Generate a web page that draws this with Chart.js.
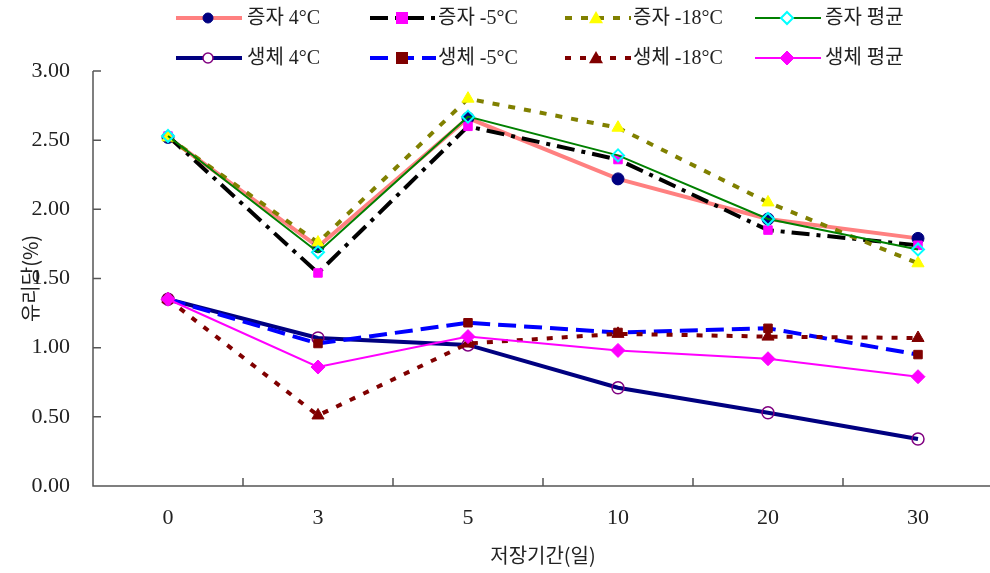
<!DOCTYPE html>
<html><head><meta charset="utf-8">
<script src="https://cdn.jsdelivr.net/npm/chart.js@4/dist/chart.umd.min.js"></script>
<style>
html,body{margin:0;padding:0;background:#fff;overflow:hidden;width:990px;height:573px}
#wrap{position:relative;width:993px;height:573px}
canvas{position:absolute;left:0;top:0}
.lg{position:absolute;font-family:"Liberation Serif","Noto Sans CJK KR",serif;font-size:20px;color:#222;line-height:24px;white-space:nowrap}
.lg svg{position:absolute}
</style></head><body>
<div id="wrap"><canvas id="c" width="993" height="573"></canvas><div id="legend"></div></div>
<script>
const categories = ["0","3","5","10","20","30"];
const seriesNames = ["증자 4°C","증자 -5°C","증자 -18°C","증자 평균","생체 4°C","생체 -5°C","생체 -18°C","생체 평균"];
const jungja4  = [2.52, 1.73, 2.66, 2.22, 1.93, 1.79];
const jungja5  = [2.53, 1.54, 2.60, 2.36, 1.85, 1.74];
const jungja18 = [2.52, 1.76, 2.80, 2.59, 2.05, 1.61];
const jungjaAvg= [2.53, 1.69, 2.67, 2.39, 1.93, 1.71];
const saeng4   = [1.35, 1.07, 1.02, 0.71, 0.53, 0.34];
const saeng5   = [1.35, 1.03, 1.18, 1.11, 1.14, 0.95];
const saeng18  = [1.35, 0.51, 1.03, 1.10, 1.08, 1.07];
const saengAvg = [1.35, 0.86, 1.08, 0.98, 0.92, 0.79];
const yTicks = [0, 0.5, 1.0, 1.5, 2.0, 2.5, 3.0];

const styles = [
 {border:'#FF8080', w:4, dash:[], pt:'circle', r:6, bg:'#000080', pb:'#000080', pbw:1},
 {border:'#000000', w:4, dash:[18,7,4,7], pt:'rect', r:6, bg:'#FF00FF', pb:'#FF00FF', pbw:1},
 {border:'#808000', w:4, dash:[7,9], pt:'triangle', r:7, bg:'#FFFF00', pb:'#FFFF00', pbw:1},
 {border:'#008000', w:2, dash:[], pt:'rectRot', r:6, bg:'rgba(0,0,0,0)', pb:'#00FFFF', pbw:2},
 {border:'#000080', w:4, dash:[], pt:'circle', r:6, bg:'rgba(0,0,0,0)', pb:'#800080', pbw:1.5},
 {border:'#0000FF', w:4, dash:[18,8], pt:'rect', r:6, bg:'#800000', pb:'#800000', pbw:1},
 {border:'#800000', w:4, dash:[6,9], pt:'triangle', r:7, bg:'#800000', pb:'#800000', pbw:1},
 {border:'#FF00FF', w:2, dash:[], pt:'rectRot', r:7, bg:'#FF00FF', pb:'#FF00FF', pbw:1}
];
const allData = [jungja4, jungja5, jungja18, jungjaAvg, saeng4, saeng5, saeng18, saengAvg];

const datasets = allData.map((d,i)=>({
  label: seriesNames[i], data: d, order: allData.length - i,
  borderColor: styles[i].border, borderWidth: styles[i].w, borderDash: styles[i].dash,
  pointStyle: styles[i].pt, pointRadius: styles[i].r, pointBackgroundColor: styles[i].bg,
  pointBorderColor: styles[i].pb, pointBorderWidth: styles[i].pbw, tension: 0, fill:false, clip:false
}));

const axisPlugin = {
  id:'axisPlugin',
  afterDraw(chart){
    const {ctx, chartArea:a, scales:{x,y}} = chart;
    ctx.save();
    ctx.strokeStyle = '#555'; ctx.lineWidth = 1.5;
    ctx.beginPath();
    ctx.moveTo(a.left, a.top); ctx.lineTo(a.left, a.bottom); ctx.lineTo(a.right, a.bottom);
    yTicks.forEach(v=>{ const py = y.getPixelForValue(v); ctx.moveTo(a.left, py); ctx.lineTo(a.left+8, py); });
    for(let i=0;i<categories.length-1;i++){
      const px = (x.getPixelForTick(i)+x.getPixelForTick(i+1))/2;
      ctx.moveTo(px, a.bottom); ctx.lineTo(px, a.bottom-8);
    }
    ctx.stroke();
    ctx.restore();
  }
};

new Chart(document.getElementById('c'), {
  type:'line',
  data:{labels:categories, datasets},
  options:{
    responsive:false, animation:false, devicePixelRatio:1,
    layout:{autoPadding:false, padding:{top:71,left:0,right:0,bottom:0}},
    plugins:{legend:{display:false}, tooltip:{enabled:false}},
    scales:{
      x:{offset:true, grid:{display:false, drawTicks:false}, border:{display:false},
        ticks:{color:'#222', font:{family:'Liberation Serif', size:22}, padding:19, maxRotation:0},
        title:{display:true, text:'저장기간(일)', color:'#222', font:{family:'Noto Sans CJK KR', size:20}, padding:{top:0,bottom:6}},
        afterFit(s){ s.height = 87; }
      },
      y:{min:0, max:3, grid:{display:false, drawTicks:false}, border:{display:false},
        afterBuildTicks(s){ s.ticks = yTicks.map(v=>({value:v})); },
        ticks:{color:'#222', font:{family:'Liberation Serif', size:22}, padding:23,
          callback:v=>Number(v).toFixed(2)},
        title:{display:true, text:'유리당(%)', color:'#222', font:{family:'Noto Sans CJK KR', size:20}, padding:{top:18,bottom:0}},
        afterFit(s){ s.width = 93; }
      }
    }
  },
  plugins:[axisPlugin]
});

// legend
const legendPos = [
  {lx:176, ly:18, mx:208, tx:247},
  {lx:370, ly:18, mx:402, tx:438},
  {lx:565, ly:18, mx:596, tx:633},
  {lx:755, ly:18, mx:787, tx:825},
  {lx:176, ly:58, mx:208, tx:247},
  {lx:370, ly:58, mx:402, tx:438},
  {lx:565, ly:58, mx:596, tx:633},
  {lx:755, ly:58, mx:787, tx:825}
];
const lg = document.getElementById('legend');
function markerSvg(s, cx, cy){
  const f = s.bg, st = s.pb, sw = s.pbw, r = s.r;
  if(s.pt==='circle') return `<circle cx="${cx}" cy="${cy}" r="${r-1}" fill="${f==='rgba(0,0,0,0)'?'#fff':f}" stroke="${st}" stroke-width="${sw}"/>`;
  if(s.pt==='rect') return `<rect x="${cx-r}" y="${cy-r}" width="${2*r}" height="${2*r}" fill="${f}"/>`;
  if(s.pt==='triangle') return `<polygon points="${cx},${cy-r} ${cx+r},${cy+r*0.75} ${cx-r},${cy+r*0.75}" fill="${f}"/>`;
  if(s.pt==='rectRot') return `<polygon points="${cx},${cy-r} ${cx+r},${cy} ${cx},${cy+r} ${cx-r},${cy}" fill="${f==='rgba(0,0,0,0)'?'#fff':f}" stroke="${st}" stroke-width="${sw}"/>`;
  return '';
}
seriesNames.forEach((name,i)=>{
  const p = legendPos[i], s = styles[i];
  const w = 66;
  const svg = `<svg width="${w+10}" height="24" style="left:${p.lx}px;top:${p.ly-12}px;position:absolute" xmlns="http://www.w3.org/2000/svg">
    <line x1="0" y1="12" x2="${w}" y2="12" stroke="${s.border}" stroke-width="${s.w}" stroke-dasharray="${s.dash.length?s.dash.join(','):'none'}"/>
    ${markerSvg(s, p.mx-p.lx, 12)}</svg>`;
  const d = document.createElement('div');
  d.innerHTML = svg;
  lg.appendChild(d);
  const t = document.createElement('div');
  t.className='lg'; t.style.left = p.tx+'px'; t.style.top = (p.ly-13)+'px';
  t.textContent = name;
  lg.appendChild(t);
});
</script>
</body></html>
